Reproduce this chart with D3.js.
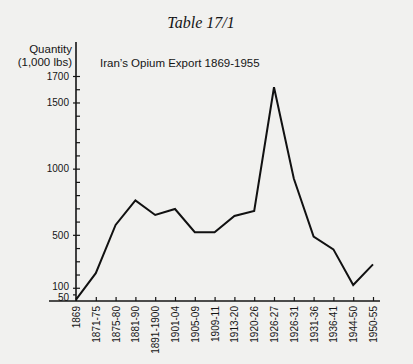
<!DOCTYPE html>
<html>
<head>
<meta charset="utf-8">
<script src="https://cdn.jsdelivr.net/npm/d3@7"></script>
<style>
  body { margin: 0; background: #f1f1ef; }
  svg { display: block; }
  text { fill: #151515; font-family: 'Liberation Sans', Arial, sans-serif; }
</style>
</head>
<body>
<div id="chart"></div>
<script>
const W = 413;
const H = 364;
const MARGIN = {TOP: 76, BOTTOM: 63, LEFT: 76, RIGHT: 40};

const periods = ['1869', '1871-75', '1875-80', '1881-90', '1891-1900', '1901-04', '1905-09',
  '1909-11', '1913-20', '1920-26', '1926-27', '1926-31', '1931-36', '1936-41', '1944-50', '1950-55'];
const exports = [10, 210, 575, 760, 650, 695, 520, 520, 642, 680, 1615, 925, 486, 390, 121, 277];
const labelTicks = [50, 100, 500, 1000, 1500, 1700];
const minorTicks = [200, 300, 400, 600, 700, 800, 900, 1100, 1200, 1300, 1400, 1600];

const svg = d3.select('#chart')
  .append('svg')
    .attr('width', W)
    .attr('height', H);

const x = d3.scalePoint()
  .domain(periods)
  .range([MARGIN.LEFT, W - MARGIN.RIGHT]);

const y = d3.scaleLinear()
  .domain([0, 1700])
  .range([H - MARGIN.BOTTOM, MARGIN.TOP]);

// title
svg.append('text')
  .attr('x', 201)
  .attr('y', 28)
  .attr('text-anchor', 'middle')
  .style('font-family', "'Liberation Serif', 'Times New Roman', serif")
  .style('font-style', 'italic')
  .style('font-size', '16px')
  .text('Table 17/1');

svg.append('text')
  .attr('x', 100)
  .attr('y', 67)
  .style('font-size', '11.5px')
  .text('Iran\u2019s Opium Export 1869-1955');

svg.append('text')
  .attr('x', 72)
  .attr('y', 53)
  .attr('text-anchor', 'end')
  .style('font-size', '11.5px')
  .text('Quantity');

svg.append('text')
  .attr('x', 72)
  .attr('y', 66)
  .attr('text-anchor', 'end')
  .style('font-size', '11.5px')
  .text('(1,000 lbs)');

// y axis
const yLeft = svg.append('g')
  .attr('transform', `translate(${MARGIN.LEFT}, 0)`)
  .call(d3.axisLeft(y).tickValues(labelTicks).tickSize(3).tickPadding(4).tickFormat(d3.format('d')));

yLeft.select('.domain').remove();
yLeft.selectAll('line').attr('stroke', '#151515').attr('stroke-width', 1.2);
yLeft.selectAll('text')
  .style('font-size', '10px')
  .style('font-family', "'Liberation Sans', Arial, sans-serif")
  .attr('fill', '#151515');
yLeft.selectAll('.tick')
  .filter(d => d === 50)
  .select('text')
  .attr('dy', '0.62em');
yLeft.selectAll('.tick')
  .filter(d => d === 100)
  .select('text')
  .attr('dy', '0.2em');

const yRight = svg.append('g')
  .attr('transform', `translate(${MARGIN.LEFT}, 0)`)
  .call(d3.axisRight(y).tickValues(labelTicks.concat(minorTicks).filter(d => d !== 50))
    .tickSize(4).tickFormat(''));
yRight.select('.domain').remove();
yRight.selectAll('line').attr('stroke', '#151515').attr('stroke-width', 1.2);

svg.append('line')
  .attr('x1', MARGIN.LEFT)
  .attr('x2', MARGIN.LEFT)
  .attr('y1', y(0))
  .attr('y2', 42)
  .attr('stroke', '#151515')
  .attr('stroke-width', 1.6);

// x axis
const xAxis = svg.append('g')
  .attr('transform', `translate(0, ${y(0)})`)
  .call(d3.axisBottom(x).tickSizeInner(-4).tickSizeOuter(0));

xAxis.select('.domain').remove();
xAxis.selectAll('line').attr('stroke', '#151515').attr('stroke-width', 1.2);
xAxis.selectAll('text')
  .attr('transform', 'rotate(-90)')
  .attr('text-anchor', 'end')
  .attr('x', -5)
  .attr('y', 0)
  .attr('dy', '0.35em')
  .attr('fill', '#151515')
  .style('font-size', '10px')
  .style('font-family', "'Liberation Sans', Arial, sans-serif");

svg.append('line')
  .attr('x1', 49)
  .attr('x2', 380)
  .attr('y1', y(0))
  .attr('y2', y(0))
  .attr('stroke', '#151515')
  .attr('stroke-width', 1.6);

// data line
const line = d3.line()
  .x((d, i) => x(periods[i]))
  .y(d => y(d));

svg.append('path')
  .datum(exports)
  .attr('d', line)
  .attr('fill', 'none')
  .attr('stroke', '#111')
  .attr('stroke-width', 2)
  .attr('stroke-linejoin', 'miter');
</script>
</body>
</html>
